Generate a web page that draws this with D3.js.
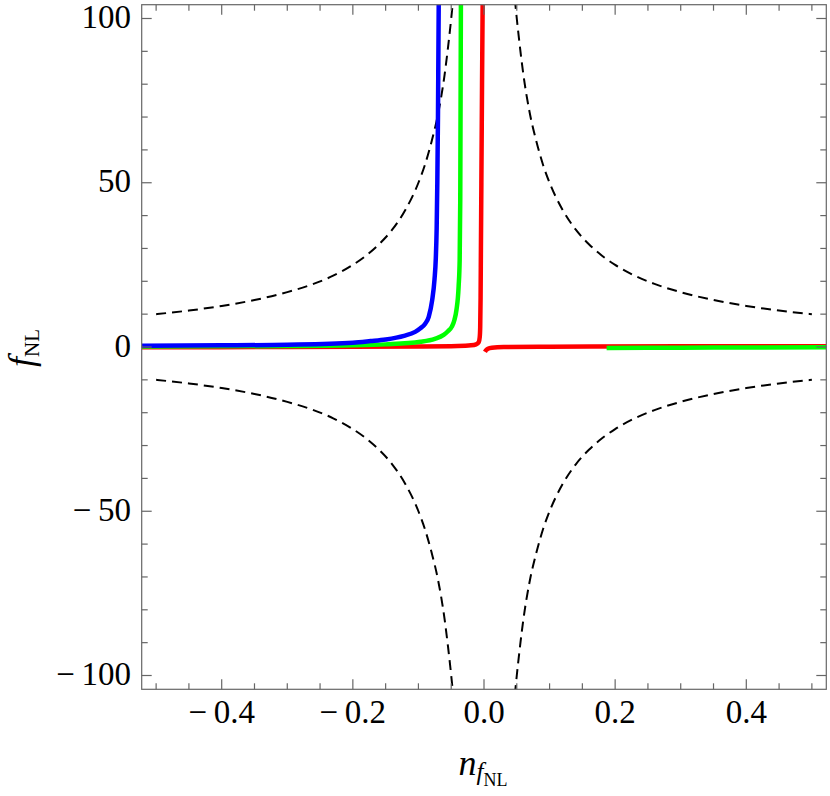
<!DOCTYPE html>
<html>
<head>
<meta charset="utf-8">
<script src="https://cdn.jsdelivr.net/npm/d3@7"></script>
<style>
  body { margin: 0; background: #fff; }
  text { font-family: "Liberation Serif", "DejaVu Serif", serif; fill: #000; }
</style>
</head>
<body>
<div id="chart"></div>
<script>
// values
var xTicksMajor = [-0.4, -0.2, 0.0, 0.2, 0.4];
var xTickLabels = ["\u2212\u20090.4", "\u2212\u20090.2", "0.0", "0.2", "0.4"];
var yTicksMajor = [-100, -50, 0, 50, 100];
var yTickLabels = ["\u2212\u2009100", "\u2212\u200950", "0", "50", "100"];

// dashed bound |f| vs |n| (four mirrored branches)
var boundN = [0.047, 0.05, 0.055, 0.06, 0.07, 0.08, 0.09, 0.10, 0.12, 0.14, 0.16, 0.18, 0.20, 0.23, 0.26, 0.30, 0.35, 0.40, 0.45, 0.50];
var boundF = [106, 100, 91, 83, 71, 62.5, 55.5, 50, 41.7, 35.7, 31.3, 27.8, 25, 21.7, 19.2, 16.7, 14.3, 12.5, 11.1, 10];

// blue curve
var blueN = [-0.522, -0.4, -0.3, -0.2, -0.173, -0.15, -0.122, -0.105, -0.097, -0.09, -0.0843, -0.079, -0.0755, -0.0735, -0.0722, -0.0712, -0.0702, -0.069];
var blueF = [0.4, 0.5, 0.7, 1.3, 1.8, 2.3, 3.4, 4.6, 5.7, 7.0, 9.2, 14.3, 20.5, 27, 36, 50, 70, 106];

// green curve, left and right pieces
var greenN = [-0.522, -0.3, -0.2, -0.15, -0.097, -0.075, -0.0615, -0.055, -0.049, -0.045, -0.042, -0.0387, -0.0371, -0.0362, -0.0352];
var greenF = [0.15, 0.3, 0.5, 0.8, 1.6, 2.5, 3.7, 4.8, 6.2, 8.3, 11.3, 18.4, 26.5, 45, 106];
var greenRightN = [0.187, 0.3, 0.4, 0.522];
var greenRightF = [-0.3, -0.2, -0.15, -0.1];

// red curve, left and right pieces
var redN = [-0.522, -0.3, -0.1, -0.04, -0.02, -0.012, -0.008, -0.0065, -0.0058, -0.0052, -0.0047, -0.004, -0.003, -0.002];
var redF = [-0.1, 0.0, 0.15, 0.3, 0.5, 0.8, 1.5, 3, 6, 15, 30, 50, 80, 106];
var redRightN = [0.0015, 0.003, 0.006, 0.012, 0.03, 0.1, 0.3, 0.522];
var redRightF = [-1.5, -1.0, -0.5, -0.2, 0.0, 0.1, 0.2, 0.2];

var width = 830, height = 796;
var frameL = 141.7, frameR = 826.3, frameT = 4.7, frameB = 689.3;

var x = d3.scaleLinear().domain([-0.522, 0.522]).range([frameL, frameR]);
var y = d3.scaleLinear().domain([-104.2, 104.2]).range([frameB, frameT]);

var svg = d3.select("#chart").append("svg")
    .attr("width", width)
    .attr("height", height);

svg.append("clipPath").attr("id", "clip")
  .append("rect")
    .attr("x", frameL).attr("y", frameT)
    .attr("width", frameR - frameL).attr("height", frameB - frameT);

var plot = svg.append("g").attr("clip-path", "url(#clip)");

function pairs(ns, fs, sn, sf) {
    return ns.map(function(n, i) { return [sn * n, sf * fs[i]]; });
}

var line = d3.line()
    .x(function(d) { return x(d[0]); })
    .y(function(d) { return y(d[1]); })
    .curve(d3.curveMonotoneX);

// dashed bounds
[[-1, 1], [1, 1], [-1, -1], [1, -1]].forEach(function(s) {
    var pts = pairs(boundN, boundF, s[0], s[1]);
    pts.sort(function(a, b) { return a[0] - b[0]; });
    plot.append("path")
        .attr("d", line(pts))
        .attr("fill", "none")
        .attr("stroke", "#000")
        .attr("stroke-width", 2)
        .attr("stroke-dasharray", "10,6");
});

var curves = [
    { n: redN, f: redF, color: "#ff0000" },
    { n: redRightN, f: redRightF, color: "#ff0000" },
    { n: greenN, f: greenF, color: "#00ff00" },
    { n: greenRightN, f: greenRightF, color: "#00ff00" },
    { n: blueN, f: blueF, color: "#0000ff" }
];

curves.forEach(function(c) {
    plot.append("path")
        .attr("d", line(pairs(c.n, c.f, 1, 1)))
        .attr("fill", "none")
        .attr("stroke", c.color)
        .attr("stroke-width", 4.5)
        .attr("stroke-linejoin", "round");
});

// frame
var frameColor = "#666";
svg.append("rect")
    .attr("x", frameL).attr("y", frameT)
    .attr("width", frameR - frameL).attr("height", frameB - frameT)
    .attr("fill", "none")
    .attr("stroke", frameColor)
    .attr("stroke-width", 1.2);

var xMinor = d3.range(-10, 11).map(function(i) { return i * 0.05; });
var yMinor = d3.range(-10, 11).map(function(i) { return i * 10; });

function isMajorX(v) { return Math.abs(v / 0.2 - Math.round(v / 0.2)) < 1e-6; }
function isMajorY(v) { return v % 50 === 0; }

var ticks = svg.append("g").attr("stroke", frameColor).attr("stroke-width", 1.2);
xMinor.forEach(function(v) {
    var len = isMajorX(v) ? 10 : 6;
    ticks.append("line").attr("x1", x(v)).attr("x2", x(v)).attr("y1", frameB).attr("y2", frameB - len);
    ticks.append("line").attr("x1", x(v)).attr("x2", x(v)).attr("y1", frameT).attr("y2", frameT + len);
});
yMinor.forEach(function(v) {
    var len = isMajorY(v) ? 10 : 6;
    ticks.append("line").attr("y1", y(v)).attr("y2", y(v)).attr("x1", frameL).attr("x2", frameL + len);
    ticks.append("line").attr("y1", y(v)).attr("y2", y(v)).attr("x1", frameR).attr("x2", frameR - len);
});

// tick labels
xTicksMajor.forEach(function(v, i) {
    svg.append("text")
        .attr("x", x(v))
        .attr("y", 723)
        .attr("text-anchor", "middle")
        .attr("font-size", 33)
        .text(xTickLabels[i]);
});
yTicksMajor.forEach(function(v, i) {
    svg.append("text")
        .attr("x", 131)
        .attr("y", y(v) + 9.5)
        .attr("text-anchor", "end")
        .attr("font-size", 33)
        .text(yTickLabels[i]);
});

// axis labels
var xl = svg.append("text")
    .attr("x", 483)
    .attr("y", 775)
    .attr("text-anchor", "middle");
xl.append("tspan").attr("font-size", 36).attr("font-style", "italic").text("n");
xl.append("tspan").attr("font-size", 25).attr("font-style", "italic").attr("dy", 5).text("f");
xl.append("tspan").attr("font-size", 18).attr("dy", 6).text("NL");

var yl = svg.append("text")
    .attr("transform", "translate(33,348) rotate(-90)")
    .attr("text-anchor", "middle");
yl.append("tspan").attr("font-size", 36).attr("font-style", "italic").text("f");
yl.append("tspan").attr("font-size", 21).attr("dy", 6).text("NL");
</script>
</body>
</html>
